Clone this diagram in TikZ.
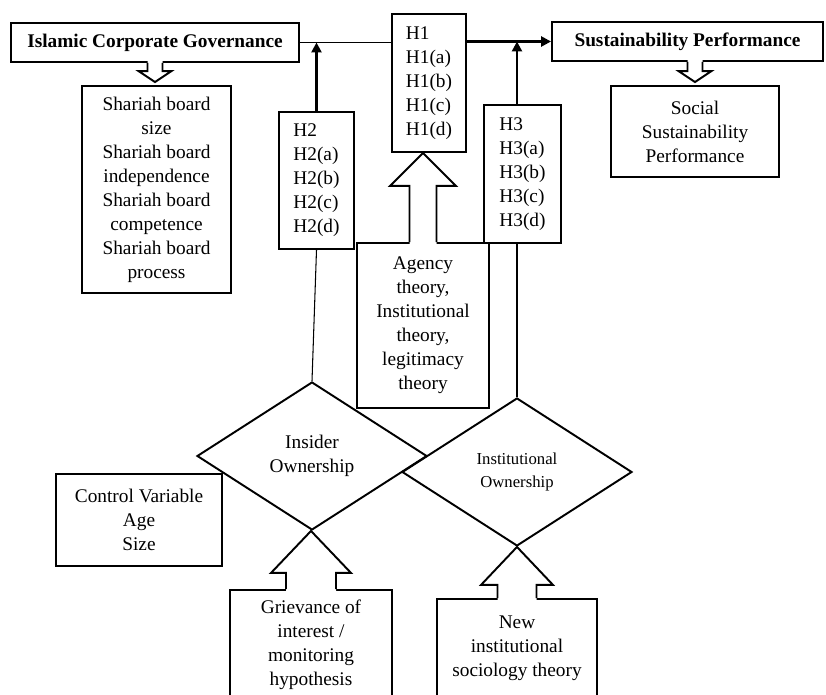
\documentclass[tikz,border=0pt]{standalone}
\usepackage{fontspec}
\setmainfont{Liberation Serif}
\usetikzlibrary{arrows.meta,positioning,shapes.geometric,calc}
\newlength{\px}\setlength{\px}{0.02cm}
\newcommand{\blockarrow}[5]{%
  \fill[white] let \p1=(#1), \p2=(#2) in
    ({\x1-#3*\px},{\y1+2.5*(#5)/abs(#5)*\px}) -- ({\x1-#3*\px},{\y2+(#5)*\px}) -- ({\x1-#4*\px},{\y2+(#5)*\px}) -- (\x1,\y2)
    -- ({\x1+#4*\px},{\y2+(#5)*\px}) -- ({\x1+#3*\px},{\y2+(#5)*\px}) -- ({\x1+#3*\px},{\y1+2.5*(#5)/abs(#5)*\px}) -- cycle;
  \draw[hollow] let \p1=(#1), \p2=(#2) in
    ({\x1-#3*\px},\y1) -- ({\x1-#3*\px},{\y2+(#5)*\px}) -- ({\x1-#4*\px},{\y2+(#5)*\px}) -- (\x1,\y2)
    -- ({\x1+#4*\px},{\y2+(#5)*\px}) -- ({\x1+#3*\px},{\y2+(#5)*\px}) -- ({\x1+#3*\px},\y1);}

\begin{document}
\begin{tikzpicture}[x=0.02cm,y=-0.02cm,
  box/.style={draw,line width=1.1pt,inner sep=0pt,align=center,font=\fontsize{11}{13.66}\selectfont},
  hbox/.style={box,align=left},
  title/.style={box,font=\fontsize{11}{13.66}\selectfont\bfseries},
  ownership/.style={diamond,draw,line width=1.1pt,inner sep=0pt,minimum width=4.6cm,minimum height=2.96cm,
    align=center,font=\fontsize{11}{13.66}\selectfont},
  link/.style={line width=0.6pt},
  boldlink/.style={line width=1.7pt,-{Triangle[length=0.2cm,width=0.2cm]}},
  hollow/.style={line width=1.1pt,line join=miter}
]
  \useasboundingbox (0,0) rectangle (826,695);
  \clip (0,0) rectangle (826,695);
  \node[title,minimum width=5.76cm,minimum height=0.78cm] (icg) at (155,42.5) {Islamic Corporate Governance};
  \node[title,minimum width=5.42cm,minimum height=0.78cm] (sp) at (687.5,41.5) {Sustainability Performance};
  \node[hbox,minimum width=1.48cm,minimum height=2.76cm] (h1) at (429,83) {H1\\H1(a)\\H1(b)\\H1(c)\\H1(d)};
  \node[hbox,minimum width=1.5cm,minimum height=2.74cm] (h2) at (316.5,180.5) {H2\\H2(a)\\H2(b)\\H2(c)\\H2(d)};
  \node[hbox,minimum width=1.54cm,minimum height=2.76cm] (h3) at (522.5,174) {H3\\H3(a)\\H3(b)\\H3(c)\\H3(d)};
  \node[box,minimum width=2.98cm,minimum height=4.14cm] (shariah) at (156.5,189.5) {Shariah board\\size\\Shariah board\\independence\\Shariah board\\competence\\Shariah board\\process};
  \node[box,minimum width=3.36cm,minimum height=1.82cm] (social) at (695,131.5) {Social\\Sustainability\\Performance};
  \node[box,minimum width=2.64cm,minimum height=3.3cm] (agency) at (423,325.5) {Agency\\theory,\\Institutional\\theory,\\legitimacy\\theory};
  \node[ownership] (insider) at (312,456) {Insider\\Ownership};
  \node[ownership,font=\fontsize{9.5}{13}\selectfont] (inst) at (517,472) {Institutional\\Ownership};
  \node[box,minimum width=3.32cm,minimum height=1.84cm] (control) at (139,520) {Control Variable\\Age\\Size};
  \node[box,minimum width=3.24cm,minimum height=2.2cm] (griev) at (311,645) {Grievance of\\interest /\\monitoring\\hypothesis};
  \node[box,minimum width=3.2cm,minimum height=1.96cm] (newinst) at (517,648) {New\\institutional\\sociology theory};

  \draw[link] (icg.east) -- (icg.east -| h1.west);
  \draw[boldlink] (sp.west -| h1.east) -- (sp.west);
  \draw[boldlink] (h2.north) -- (h2.north |- icg.east);
  \draw[boldlink] (inst.north |- h3.north) -- (inst.north |- sp.west);
  \draw[link] (h2.south) -- (insider.north);
  \draw[link] (inst.north |- h3.south) -- (inst.north);

  \blockarrow{icg.south}{$(shariah.north)+(0,-3)$}{7.5}{16.5}{11}
  \blockarrow{social.north |- sp.south}{$(social.north)+(0,-3)$}{7.5}{16.5}{11}
  \blockarrow{agency.north}{h1.south}{13.5}{33}{-33}
  \blockarrow{griev.north}{insider.south}{25}{40}{-42}
  \blockarrow{newinst.north}{inst.south}{19.5}{36}{-38}
\end{tikzpicture}
\end{document}
